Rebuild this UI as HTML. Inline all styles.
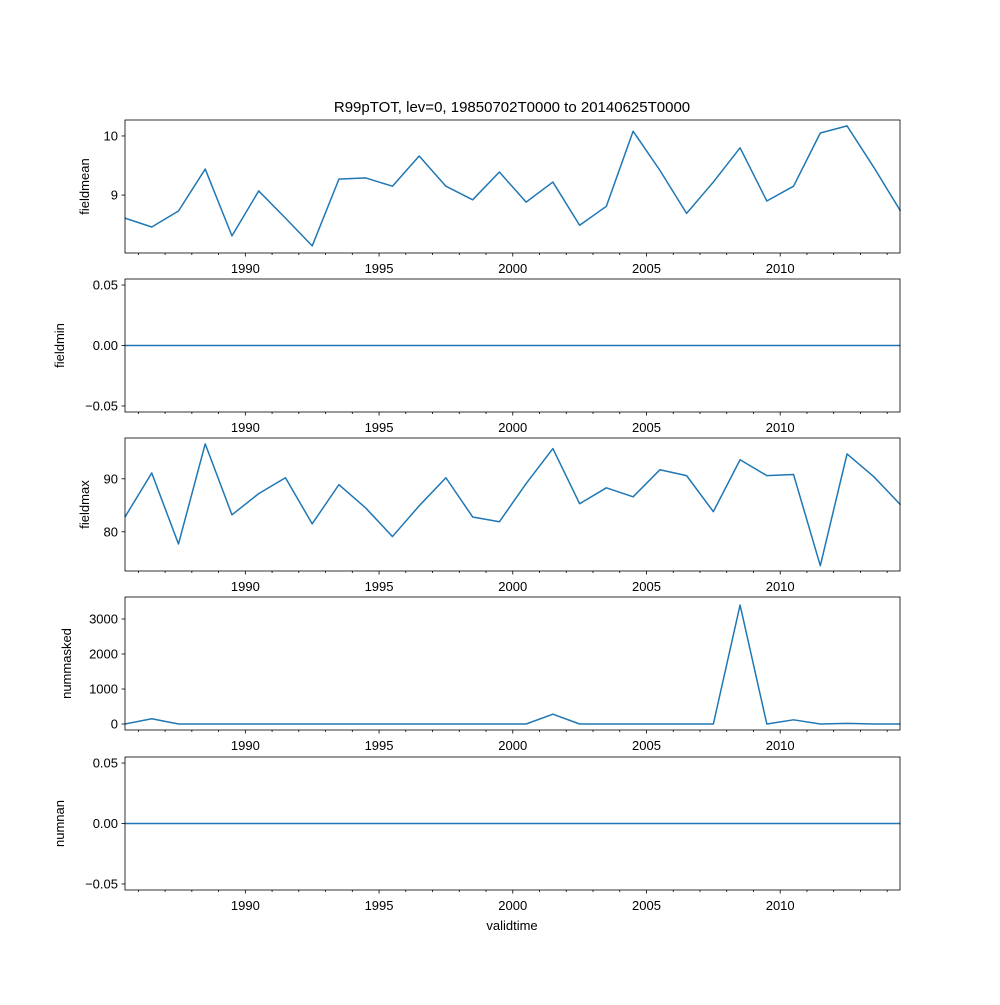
<!DOCTYPE html>
<html><head><meta charset="utf-8"><style>
body{margin:0;background:#fff}
svg{font-family:"Liberation Sans","DejaVu Sans",sans-serif}
</style></head><body>
<svg id="fig" width="1000" height="1000" xmlns="http://www.w3.org/2000/svg">
<text x="512" y="112" font-size="15" text-anchor="middle">R99pTOT, lev=0, 19850702T0000 to 20140625T0000</text>
<text x="512" y="930" font-size="13" text-anchor="middle">validtime</text>
</svg>
<script>
const years = [];
for (let y = 1985; y <= 2014; y++) years.push(y);
const fieldmean = [8.61,8.46,8.73,9.44,8.31,9.07,8.61,8.14,9.27,9.29,9.15,9.66,9.15,8.92,9.39,8.88,9.22,8.49,8.81,10.08,9.42,8.69,9.22,9.80,8.90,9.15,10.05,10.17,9.47,8.73];
const fieldmin = years.map(()=>0);
const fieldmax = [82.8,91.1,77.7,96.6,83.2,87.2,90.2,81.5,88.9,84.5,79.1,84.9,90.2,82.8,81.9,89.1,95.7,85.3,88.3,86.6,91.7,90.6,83.8,93.6,90.6,90.8,73.6,94.7,90.4,85.1];
const nummasked = [0,150,0,0,0,0,0,0,0,0,0,0,0,0,0,0,280,0,0,0,0,0,0,3400,0,120,0,20,0,0];
const numnan = years.map(()=>0);
const xTickYears = [1990,1995,2000,2005,2010];
const panelNames = ["fieldmean","fieldmin","fieldmax","nummasked","numnan"];
const panelSeries = [fieldmean,fieldmin,fieldmax,nummasked,numnan];
const panelTicks = [[9,10],[-0.05,0,0.05],[80,90],[0,1000,2000,3000],[-0.05,0,0.05]];
const panelTickLabels = [["9","10"],["−0.05","0.00","0.05"],["80","90"],["0","1000","2000","3000"],["−0.05","0.00","0.05"]];
const panelLims = [[8.02,10.27],[-0.055,0.055],[72.6,97.7],[-171,3629],[-0.055,0.055]];
const panelTops = [120,279,438,597,757];
const PH = 133, L = 125, R = 900;
const t0 = 1985.5, t1 = 2014.48;
const X = t => L + (t - t0) / (t1 - t0) * (R - L);
const NS = "http://www.w3.org/2000/svg";
const svg = document.getElementById('fig');
function mk(tag, attrs, parent){const e=document.createElementNS(NS,tag);for(const k in attrs)e.setAttribute(k,attrs[k]);(parent||svg).appendChild(e);return e;}
panelNames.forEach((name, p) => {
  const top = panelTops[p], bot = top + PH;
  const [lo, hi] = panelLims[p];
  const Y = v => bot - (v - lo) / (hi - lo) * PH;
  const g = mk('g', {});
  
  
  const pts = panelSeries[p].map((v, i) => X(years[i] + 0.5).toFixed(2) + ',' + Y(v).toFixed(2)).join(' ');
  const line = mk('polyline', {points: pts, fill: 'none', stroke: '#1f77b4', 'stroke-width': 1.5, 'stroke-linejoin': 'round'}, g);
  
  
  const fr = mk('rect', {x: L, y: top, width: R - L, height: PH, fill: 'none', stroke: '#000', 'stroke-width': 0.8}, g);
  
  
  for (let y = 1986; y <= 2014; y++) {
    const x = X(y);
    if (x < L || x > R) continue;
    const major = xTickYears.includes(y);
    mk('line', {x1: x, x2: x, y1: bot, y2: bot + (major ? 3.5 : 2), stroke: '#000', 'stroke-width': 0.8}, g);
  }
  xTickYears.forEach(y => {
    const t = mk('text', {x: X(y), y: bot + 20, 'font-size': 13, 'text-anchor': 'middle'}, g);
    t.textContent = y;
    
    
  });
  panelTicks[p].forEach((v, i) => {
    const y = Y(v);
    mk('line', {x1: L - 3.5, x2: L, y1: y, y2: y, stroke: '#000', 'stroke-width': 0.8}, g);
    const t = mk('text', {x: L - 7, y: y + 4.5, 'font-size': 13, 'text-anchor': 'end'}, g);
    t.textContent = panelTickLabels[p][i];
    
    
  });
  const lx = (p === 1 || p === 4) ? 64 : (p === 3 ? 71 : 89);
  const yl = mk('text', {x: lx, y: top + PH / 2, 'font-size': 13, 'text-anchor': 'middle', transform: `rotate(-90 ${lx} ${top + PH / 2})`}, g);
  yl.textContent = name;
  
  
});
</script>
</body></html>
